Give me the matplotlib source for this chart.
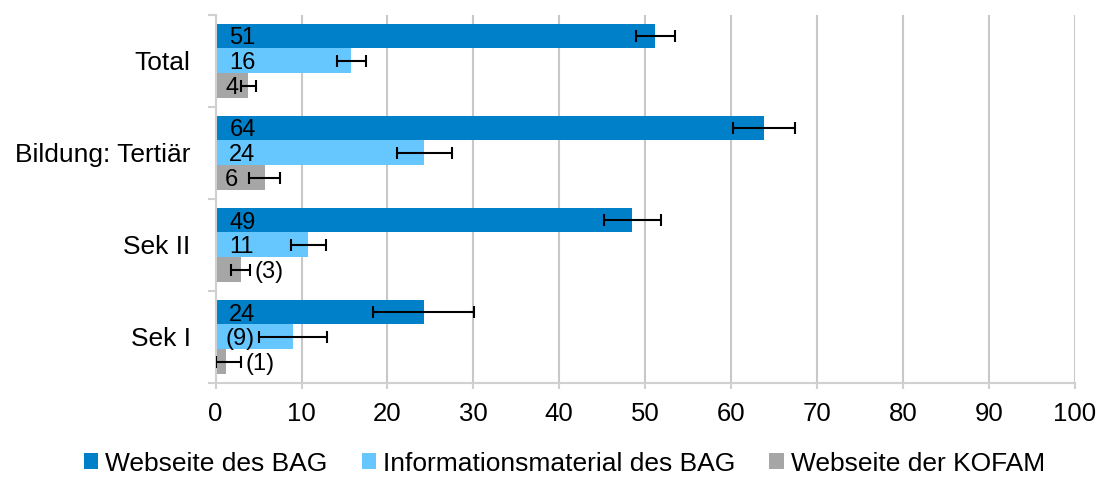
import matplotlib.pyplot as plt
import numpy as np

plt.rcParams['font.family'] = ['Liberation Sans', 'DejaVu Sans']

categories = ['Total', 'Bildung: Tertiär', 'Sek II', 'Sek I']
series = ['Webseite des BAG', 'Informationsmaterial des BAG', 'Webseite der KOFAM']
colors = ['#0080C9', '#66C7FF', '#A6A6A6']

web_bag = [51.2, 63.8, 48.5, 24.2]
info_bag = [15.8, 24.3, 10.8, 9.0]
web_kofam = [3.8, 5.7, 2.9, 1.25]

err_web_bag = [2.3, 3.6, 3.3, 5.9]
err_info_bag = [1.7, 3.2, 2.0, 4.0]
err_web_kofam = [0.9, 1.8, 1.1, 1.75]

labels_web_bag = ['51', '64', '49', '24']
labels_info_bag = ['16', '24', '11', '(9)']
labels_web_kofam = ['4', '6', '(3)', '(1)']

values = [web_bag, info_bag, web_kofam]
errors = [err_web_bag, err_info_bag, err_web_kofam]
labels = [labels_web_bag, labels_info_bag, labels_web_kofam]

fig = plt.figure(figsize=(11, 4.78), dpi=100)
ax = fig.add_axes([0.196, 0.199, 0.781, 0.770])

y = np.arange(len(categories))
h = 0.27
offsets = [-h, 0, h]

for vals, errs, labs, col, off, name in zip(values, errors, labels, colors, offsets, series):
    vals = np.array(vals)
    errs = np.array(errs)
    lower = np.minimum(errs, vals)
    ax.barh(y + off, vals, height=h, color=col, label=name, zorder=2)
    ax.errorbar(vals, y + off, xerr=[lower, errs], fmt='none', ecolor='black',
                elinewidth=1.5, capsize=4.5, capthick=1.5, zorder=3)
    for yi, v, e, lab in zip(y, vals, errs, labs):
        if v < 3.5 and lab.startswith('('):
            ax.text(v + e + 0.5, yi + off, lab, ha='left', va='center_baseline',
                    fontsize=17, zorder=4)
        else:
            x0 = 1.6 if len(lab) == 2 else 1.1
            ax.text(x0, yi + off, lab, ha='left', va='center_baseline',
                    fontsize=17, zorder=4)

ax.set_xlim(0, 100)
ax.set_ylim(3.5, -0.5)
ax.set_xticks(np.arange(0, 101, 10))
ax.set_yticks(y)
ax.set_yticklabels(categories)
ax.set_yticks(np.arange(-0.5, 4.0, 1.0), minor=True)
ax.tick_params(axis='y', which='major', length=0, pad=18, labelsize=19)
ax.tick_params(axis='y', which='minor', length=6, width=1.5, color='#D0D0D0')
ax.tick_params(axis='x', length=4, width=1.5, color='#D0D0D0', pad=10, labelsize=18.5)

ax.grid(axis='x', color='#C8C8C8', linewidth=1.5, zorder=0)
ax.set_axisbelow(True)
for s in ['top', 'right']:
    ax.spines[s].set_visible(False)
for s in ['left', 'bottom']:
    ax.spines[s].set_color('#D0D0D0')
    ax.spines[s].set_linewidth(1.5)

fig.legend(loc='center', bbox_to_anchor=(0.513, 0.03), ncol=3, frameon=False,
           fontsize=19, handlelength=0.55, handleheight=0.55, handletextpad=0.25,
           columnspacing=1.3, borderpad=0)

fig.savefig('out.png', dpi=100)
